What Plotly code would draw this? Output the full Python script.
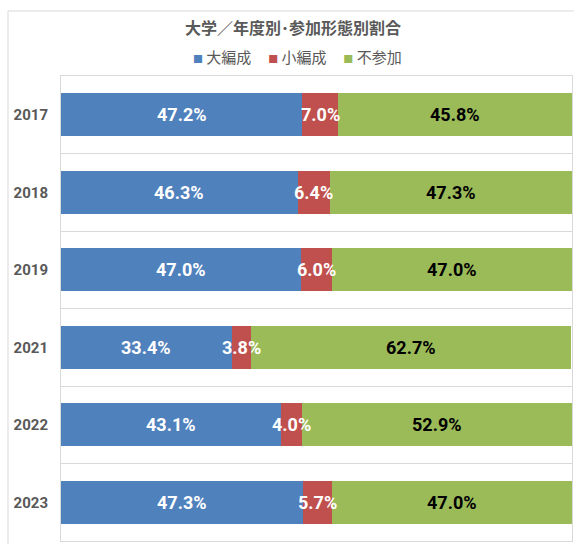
import plotly.graph_objects as go

# Survey years and share of each participation type (%)
years = ["2017", "2018", "2019", "2021", "2022", "2023"]
large_band = [47.2, 46.3, 47.0, 33.4, 43.1, 47.3]
small_band = [7.0, 6.4, 6.0, 3.8, 4.0, 5.7]
no_part = [45.8, 47.3, 47.0, 62.7, 52.9, 47.0]

series_names = ["大編成", "小編成", "不参加"]
series_values = [large_band, small_band, no_part]
series_colors = ["#4F81BD", "#C0504D", "#9BBB59"]
label_colors = ["white", "white", "black"]

LABEL_FONT = "Roboto, Liberation Sans, sans-serif"
CJK_FONT = "Noto Sans CJK JP, Noto Sans, sans-serif"
GRAY = "#595959"
FRAME = "#D9D9D9"

ypos = list(range(len(years)))

fig = go.Figure()
for name, vals, color in zip(series_names, series_values, series_colors):
    fig.add_trace(go.Bar(
        name=name,
        y=ypos,
        x=[v / 100 for v in vals],
        orientation="h",
        marker=dict(color=color, line=dict(width=0)),
        hoverinfo="skip",
        width=0.555,
        showlegend=False,
    ))

# value labels centred on each stacked segment (kept on top of every bar)
for i in ypos:
    start = 0.0
    for vals, tcolor in zip(series_values, label_colors):
        v = vals[i] / 100
        fig.add_annotation(
            x=start + v / 2, y=i, xref="x", yref="y",
            text=f"{vals[i]:.1f}%", showarrow=False,
            xanchor="center", yanchor="middle",
            font=dict(family=LABEL_FONT, size=18, color=tcolor, weight="bold"),
        )
        start += v

# legend line: coloured squares followed by series names
legend_parts = []
for name, color in zip(series_names, series_colors):
    legend_parts.append(
        f"<span style='color:{color};font-size:10px'>■</span>&#160;{name}"
    )
fig.add_annotation(
    x=(297 - 61) / 511, y=(541 - 56) / 465, xref="paper", yref="paper",
    text="&#160;&#160;&#160;&#160;&#160;".join(legend_parts),
    showarrow=False, xanchor="center", yanchor="middle",
    font=dict(family=CJK_FONT, size=15, color=GRAY),
)

fig.update_layout(
    width=574,
    height=544,
    barmode="stack",
    paper_bgcolor="white",
    plot_bgcolor="white",
    margin=dict(l=61, r=2, t=76, b=3),
    title=dict(
        text="<b>大学／年度別･参加形態別割合</b>",
        x=293 / 574, xref="container", xanchor="center",
        y=1 - 28 / 544, yref="container", yanchor="middle",
        font=dict(family=CJK_FONT, size=16, color=GRAY),
    ),
    showlegend=False,
    xaxis=dict(
        range=[0, 1],
        showticklabels=False,
        showgrid=False,
        zeroline=False,
        showline=True,
        mirror=True,
        linecolor=FRAME,
        linewidth=1,
        ticks="",
    ),
    yaxis=dict(
        tickmode="array",
        tickvals=ypos,
        ticktext=[f"<b>{y}</b>" for y in years],
        range=[len(years) - 0.5, -0.5],
        showgrid=False,
        zeroline=False,
        showline=True,
        mirror=True,
        linecolor=FRAME,
        linewidth=1,
        ticks="",
        ticklabelstandoff=9,
        tickfont=dict(family="Roboto, Liberation Sans, sans-serif", size=15, color=GRAY),
        minor=dict(tick0=0.5, dtick=1, showgrid=True, gridcolor=FRAME, gridwidth=1, ticks=""),
    ),
    font=dict(family=CJK_FONT),
)

# outer chart frame
fig.add_shape(
    type="rect", xref="paper", yref="paper",
    x0=(8 - 61) / 511, x1=1.2, y0=-0.2, y1=(541 - 11) / 465,
    line=dict(color=FRAME, width=1), fillcolor="rgba(0,0,0,0)",
    layer="below",
)

fig.write_html("out.html")
